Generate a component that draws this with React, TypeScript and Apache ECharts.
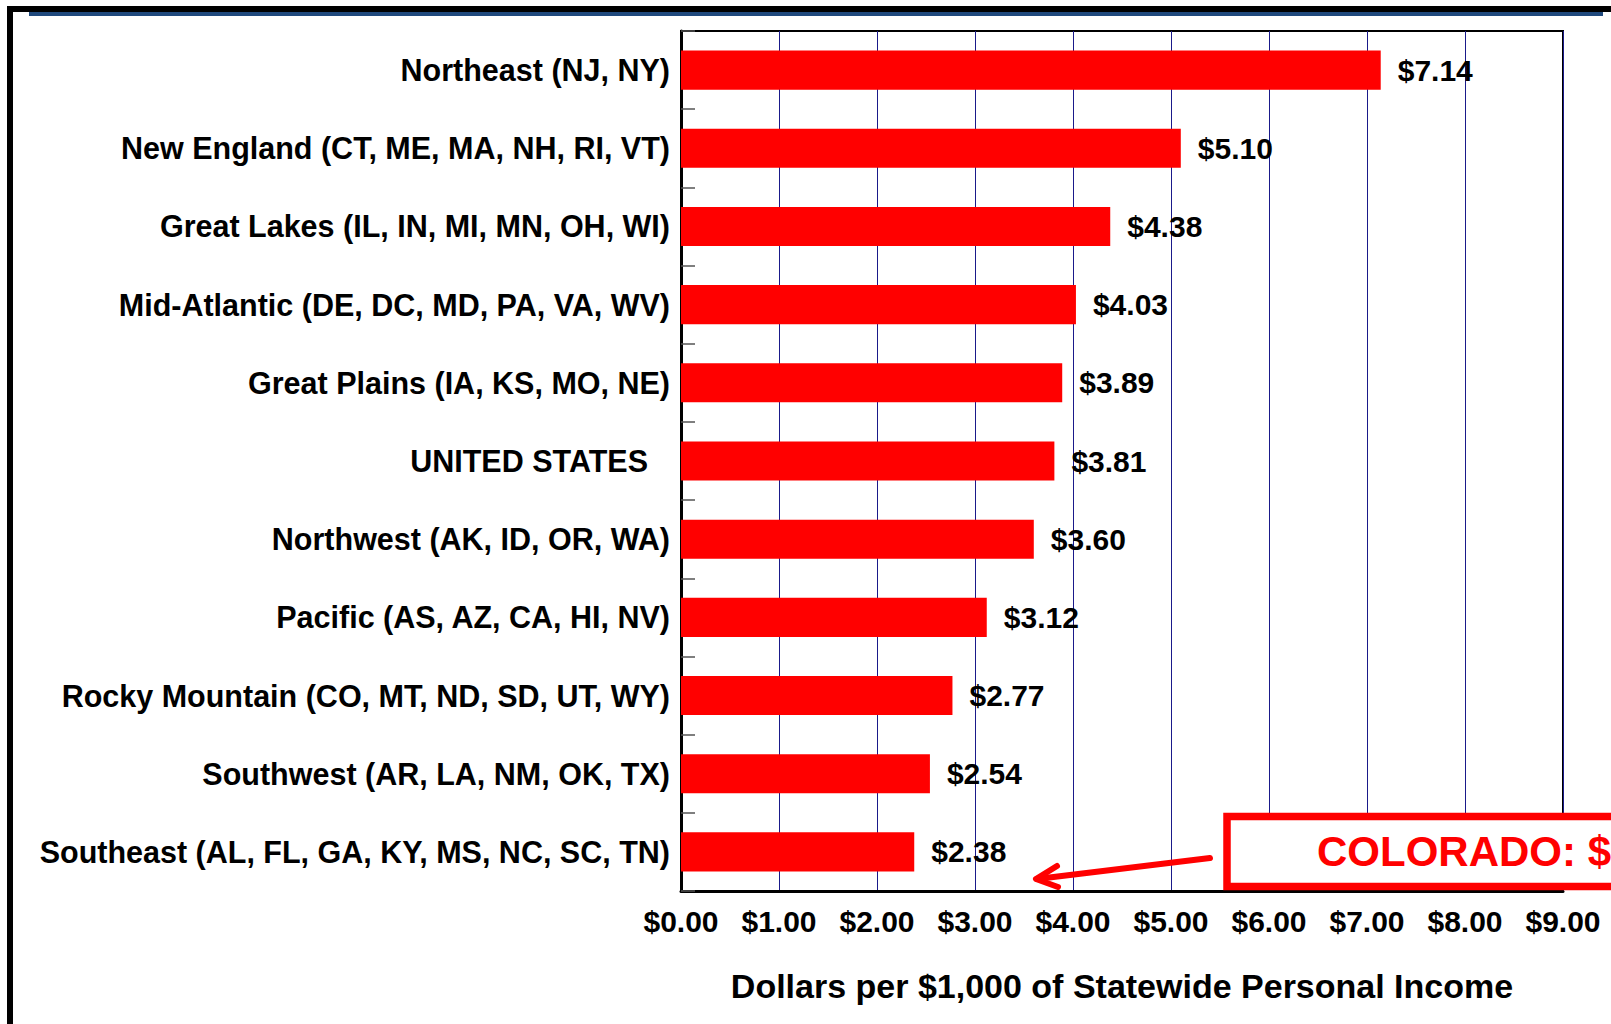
import React, { useEffect, useRef } from "react";
import * as echarts from "echarts";

const categories = [
  "Northeast (NJ, NY)",
  "New England (CT, ME, MA, NH, RI, VT)",
  "Great Lakes (IL, IN, MI, MN, OH, WI)",
  "Mid-Atlantic (DE, DC, MD, PA, VA, WV)",
  "Great Plains (IA, KS, MO, NE)",
  "UNITED STATES",
  "Northwest (AK, ID, OR, WA)",
  "Pacific (AS, AZ, CA, HI, NV)",
  "Rocky Mountain (CO, MT, ND, SD, UT, WY)",
  "Southwest (AR, LA, NM, OK, TX)",
  "Southeast (AL, FL, GA, KY, MS, NC, SC, TN)",
];
const values = [7.14, 5.1, 4.38, 4.03, 3.89, 3.81, 3.6, 3.12, 2.77, 2.54, 2.38];
const xMin = 0;
const xMax = 9;
const xStep = 1;
const axisTitle = "Dollars per $1,000 of Statewide Personal Income";
const calloutText = "COLORADO: $";

const FONT = '"Liberation Sans", Arial, Helvetica, sans-serif';

export default function App() {
  const ref = useRef<HTMLDivElement>(null);
  useEffect(() => {
    if (!ref.current) return;
    const chart = echarts.init(ref.current, undefined, { renderer: "svg" });
    chart.setOption({
      animation: false,
      backgroundColor: "#ffffff",
      textStyle: { fontFamily: FONT },
      grid: {
        left: 681,
        top: 31,
        width: 882,
        height: 860,
        show: true,
        borderColor: "#000000",
        borderWidth: 2,
        containLabel: false,
      },
      xAxis: {
        type: "value",
        min: xMin,
        max: xMax,
        interval: xStep,
        axisLine: { show: true, lineStyle: { color: "#000000", width: 3 } },
        axisTick: { show: false },
        splitLine: { show: true, lineStyle: { color: "#1a1a8a", width: 1 } },
        axisLabel: {
          formatter: (v: number) => "$" + v.toFixed(2),
          fontSize: 30,
          fontWeight: "bold",
          color: "#000000",
          fontFamily: FONT,
          margin: 15,
        },
        name: axisTitle,
        nameLocation: "middle",
        nameGap: 78,
        nameTextStyle: {
          fontSize: 34,
          fontWeight: "bold",
          color: "#000000",
          fontFamily: FONT,
        },
      },
      yAxis: {
        type: "category",
        inverse: true,
        data: categories,
        axisLine: { show: true, lineStyle: { color: "#000000", width: 3 } },
        axisTick: {
          show: true,
          inside: true,
          length: 14,
          lineStyle: { color: "#555555", width: 1.5 },
        },
        axisLabel: {
          fontSize: 30.5,
          fontWeight: "bold",
          color: "#000000",
          fontFamily: FONT,
          margin: 11,
          formatter: (v: string) => (v === "UNITED STATES" ? "{us|" + v + "}" : v),
          rich: {
            us: {
              fontSize: 30.5,
              fontWeight: "bold",
              color: "#000000",
              fontFamily: FONT,
              padding: [0, 22, 0, 0],
            },
          },
        },
      },
      series: [
        {
          type: "bar",
          data: values,
          barWidth: "50%",
          itemStyle: { color: "#ff0000" },
          label: {
            show: true,
            position: "right",
            distance: 17,
            formatter: (p: any) => "$" + Number(p.value).toFixed(2),
            fontSize: 30,
            fontWeight: "bold",
            color: "#000000",
            fontFamily: FONT,
          },
          z: 2,
        },
      ],
      graphic: [
        {
          type: "rect",
          z: 100,
          shape: { x: 7, y: 6, width: 1604, height: 6 },
          style: { fill: "#000000" },
        },
        {
          type: "rect",
          z: 100,
          shape: { x: 7, y: 6, width: 6, height: 1018 },
          style: { fill: "#000000" },
        },
        {
          type: "rect",
          z: 100,
          shape: { x: 29, y: 12, width: 1574, height: 4 },
          style: { fill: "#1f497d" },
        },
        {
          type: "rect",
          z: 100,
          shape: { x: 1227, y: 816.5, width: 500, height: 70 },
          style: { fill: "#ffffff", stroke: "#ff0000", lineWidth: 7.5 },
        },
        {
          type: "text",
          z: 101,
          x: 1317,
          y: 851,
          style: {
            text: calloutText,
            fill: "#ff0000",
            font: "bold 42px " + FONT,
            textVerticalAlign: "middle",
            verticalAlign: "middle",
            align: "left",
          },
        },
        {
          type: "line",
          z: 101,
          shape: { x1: 1210, y1: 858, x2: 1037, y2: 879 },
          style: { stroke: "#ff0000", lineWidth: 6, lineCap: "round" },
        },
        {
          type: "polyline",
          z: 101,
          shape: {
            points: [
              [1057, 866],
              [1036, 879],
              [1058, 887],
            ],
          },
          style: {
            stroke: "#ff0000",
            lineWidth: 6,
            lineCap: "round",
            lineJoin: "round",
            fill: "none",
          },
        },
      ],
    });
    return () => chart.dispose();
  }, []);
  return (
    <div
      ref={ref}
      style={{
        position: "absolute",
        left: 0,
        top: 0,
        width: 1611,
        height: 1024,
        background: "#ffffff",
        overflow: "hidden",
      }}
    />
  );
}
